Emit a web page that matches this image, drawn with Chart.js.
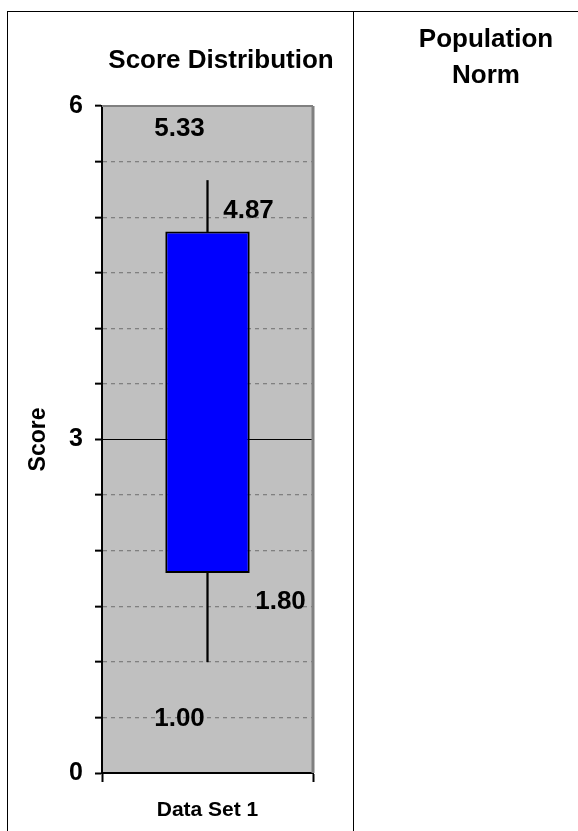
<!DOCTYPE html>
<html>
<head>
<meta charset="utf-8">
<script src="https://cdn.jsdelivr.net/npm/chart.js@4.4.1/dist/chart.umd.min.js"></script>
<style>
  html, body { margin: 0; padding: 0; background: #fff; }
  #wrap { position: relative; width: 578px; height: 831px; overflow: hidden;
          font-family: 'Liberation Sans', Arial, sans-serif; font-weight: bold; color: #000; }
  #chart { position: absolute; left: 0; top: 0; }
  .rule { position: absolute; background: #000; }
  .title { position: absolute; text-align: center; font-size: 26px; white-space: nowrap; }
</style>
</head>
<body>
<div id="wrap">
  <canvas id="chart" width="578" height="831"></canvas>
  <!-- table lines -->
  <div class="rule" style="left:7px;top:11px;width:571px;height:1px"></div>
  <div class="rule" style="left:7px;top:11px;width:1px;height:820px"></div>
  <div class="rule" style="left:353px;top:11px;width:1px;height:820px"></div>
  <div class="title" style="left:61px;top:44px;width:320px;line-height:30px">Score Distribution</div>
  <div class="title" style="left:400px;top:20px;width:172px;line-height:36px">Population<br>Norm</div>
</div>
<script>
// data
const categories = ['Data Set 1'];
const minValues = [1.00];
const q1Values = [1.80];
const q3Values = [4.87];
const maxValues = [5.33];
const yTicksShown = [0, 3, 6];

const FONT = "'Liberation Sans', Arial, sans-serif";

/* =========================
   plugins
========================= */
// gray plot area + gray frame top/right
const plotFrame = {
    id: 'plotFrame',
    beforeDraw(chart) {
        const { ctx, chartArea: a } = chart;
        ctx.save();
        ctx.fillStyle = '#c0c0c0';
        ctx.fillRect(a.left, a.top, a.right - a.left, a.bottom - a.top);
        ctx.restore();
    },
    afterDatasetsDraw(chart) {
        const { ctx, chartArea: a } = chart;
        ctx.save();
        ctx.strokeStyle = '#808080';
        ctx.lineWidth = 2;
        ctx.beginPath();
        ctx.moveTo(a.left, a.top);
        ctx.lineTo(a.right, a.top);
        ctx.stroke();
        ctx.lineWidth = 3;
        ctx.beginPath();
        ctx.moveTo(a.right, a.top);
        ctx.lineTo(a.right, a.bottom);
        ctx.stroke();
        ctx.restore();
    }
};

// value labels (placed like the Excel labels)
const valueLabels = {
    id: 'valueLabels',
    afterDraw(chart) {
        const { ctx, scales: { x, y } } = chart;
        const items = [
            [maxValues[0], -28, -52],
            [q3Values[0], 41, -21],
            [q1Values[0], 73, 29],
            [minValues[0], -28, 57]
        ];
        ctx.save();
        ctx.font = 'bold 26px ' + FONT;
        ctx.fillStyle = '#000';
        ctx.textAlign = 'center';
        ctx.textBaseline = 'middle';
        items.forEach(([v, dx, dy]) => {
            const px = x.getPixelForValue(0);
            const py = y.getPixelForValue(v);
            ctx.fillText(v.toFixed(2), px + dx, py + dy);
        });
        ctx.restore();
    }
};

/* =========================
   chart
========================= */
new Chart(document.getElementById('chart'), {
    type: 'bar',
    data: {
        labels: categories,
        datasets: [
            {
                label: 'box',
                data: q1Values.map((v, i) => [v, q3Values[i]]),
                backgroundColor: '#0000ff',
                borderColor: '#000',
                borderWidth: 2,
                borderSkipped: false,
                barPercentage: 0.4,
                categoryPercentage: 1,
                grouped: false,
                order: 0
            },
            {
                label: 'upper',
                data: q3Values.map((v, i) => [v, maxValues[i]]),
                backgroundColor: '#000',
                barThickness: 1.6,
                grouped: false,
                order: 1
            },
            {
                label: 'lower',
                data: minValues.map((v, i) => [v, q1Values[i]]),
                backgroundColor: '#000',
                barThickness: 1.6,
                grouped: false,
                order: 1
            }
        ]
    },
    options: {
        responsive: false,
        animation: false,
        layout: { padding: { left: 8, right: 265, top: 106, bottom: 0 } },
        plugins: {
            legend: { display: false },
            tooltip: { enabled: false },
            title: { display: false }
        },
        scales: {
            x: {
                offset: true,
                grid: {
                    offset: true,
                    drawOnChartArea: false,
                    tickLength: 9,
                    tickColor: '#000',
                    tickWidth: 2
                },
                border: { color: '#000', width: 2 },
                ticks: { color: '#000', font: { family: FONT, size: 21, weight: 'bold' }, padding: 16 },
                afterFit: s => { s.height = 58; }
            },
            y: {
                min: 0,
                max: 6,
                afterBuildTicks: s => {
                    const t = [];
                    for (let i = 0; i <= 12; i++) t.push({ value: i * 0.5 });
                    s.ticks = t;
                },
                ticks: {
                    autoSkip: false,
                    color: '#000',
                    font: { family: FONT, size: 25, weight: 'bold' },
                    padding: 12,
                    callback: v => (yTicksShown.includes(v) ? String(v) : '')
                },
                grid: {
                    color: c => {
                        const v = c.tick ? c.tick.value : null;
                        if (v === 6) return 'rgba(0,0,0,0)';
                        if (v === 3 || v === 0) return '#000';
                        return '#808080';
                    },
                    lineWidth: c => (c.tick && c.tick.value !== 3 && c.tick.value !== 0 ? 1.3 : 1),
                    tickLength: 7,
                    tickColor: '#000',
                    tickWidth: 2
                },
                border: {
                    color: '#000',
                    width: 2,
                    dash: c => (c.tick && c.tick.value !== 3 && c.tick.value !== 0 ? [4, 4] : [])
                },
                title: {
                    display: true,
                    text: 'Score',
                    color: '#000',
                    font: { family: FONT, size: 23, weight: 'bold' },
                    padding: { top: 17, bottom: 0 }
                },
                afterFit: s => { s.width = 94; }
            }
        }
    },
    plugins: [plotFrame, valueLabels]
});
</script>
</body>
</html>
